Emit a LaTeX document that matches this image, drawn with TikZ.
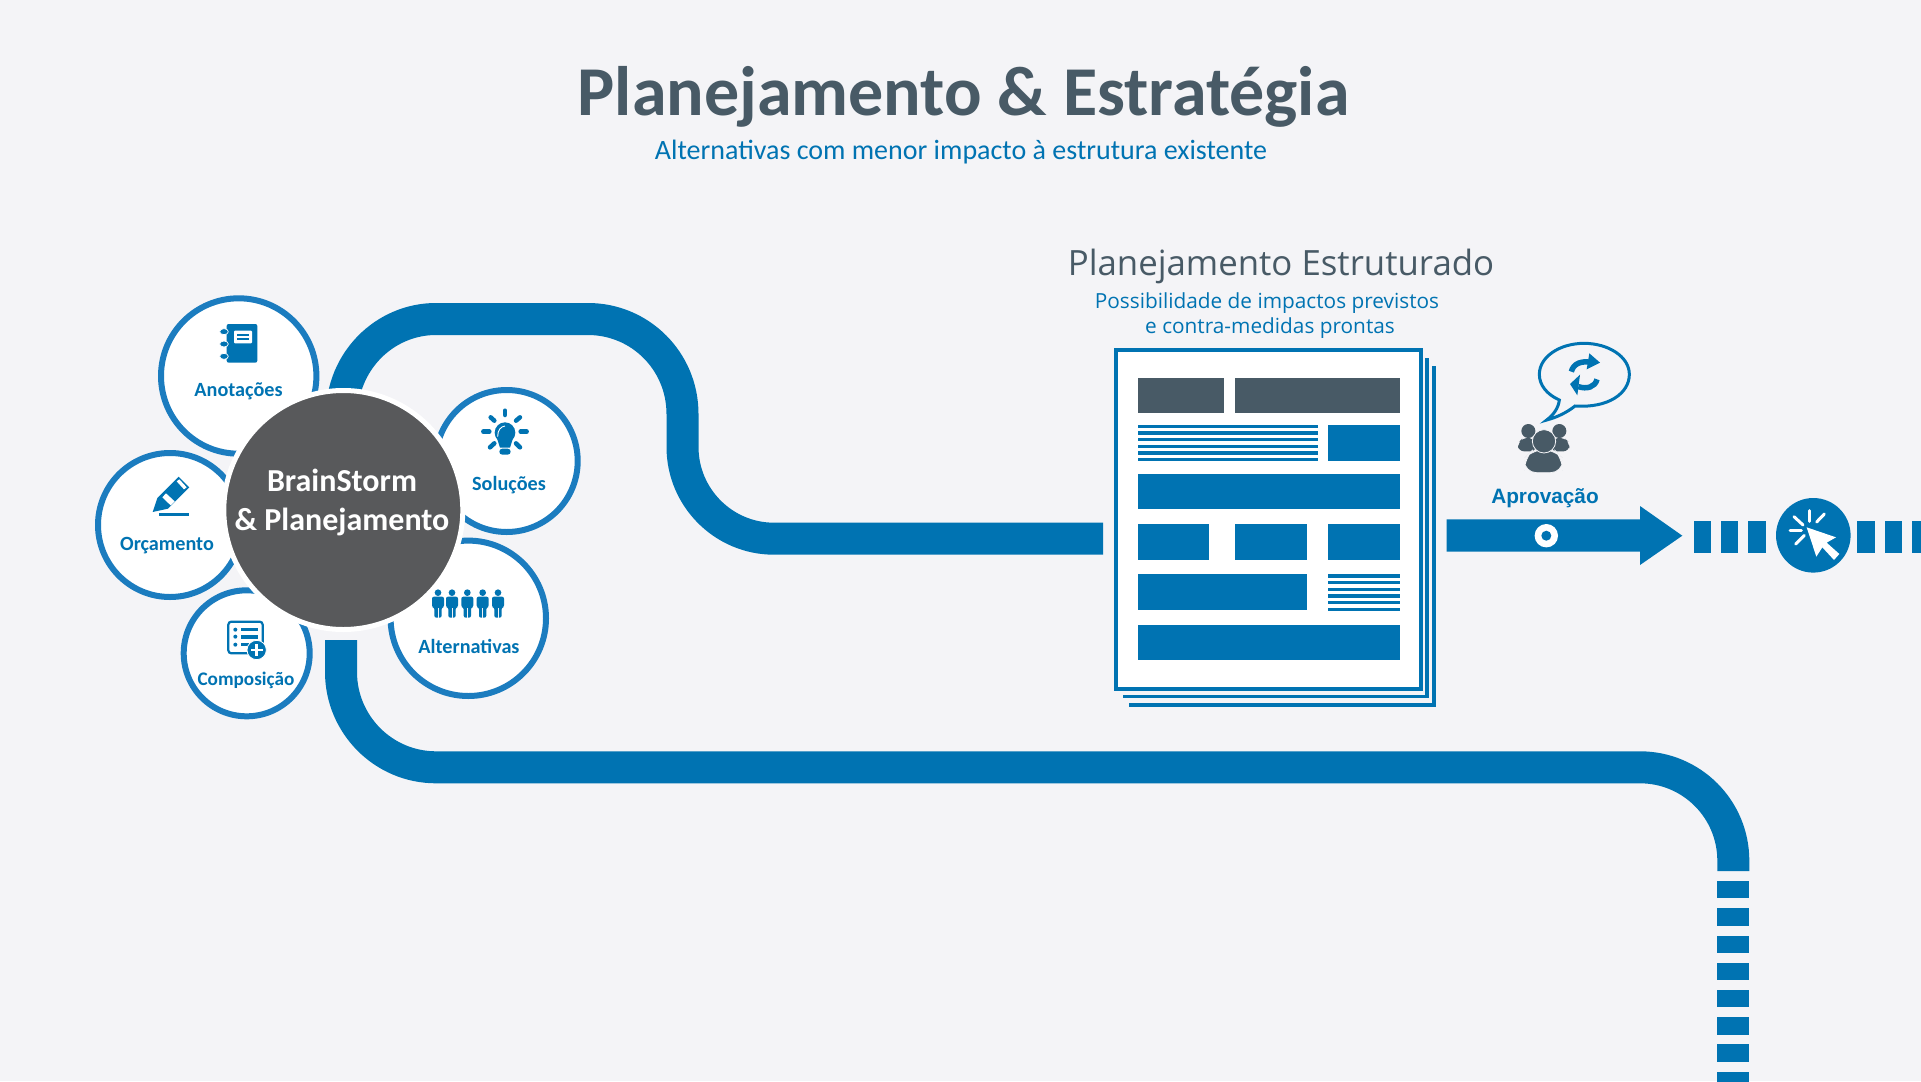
\documentclass[tikz,border=0pt]{standalone}
\usepackage{fontspec}
\setmainfont{Carlito}
\newfontfamily\opens{Open Sans}
\newfontfamily\libs{Liberation Sans}
\definecolor{bgc}{HTML}{F4F4F7}
\definecolor{blu}{HTML}{0073B2}
\definecolor{ringb}{HTML}{1B7CBF}
\definecolor{slate}{HTML}{485A66}
\definecolor{dark}{HTML}{58595B}
\tikzset{
  tube/.style={draw=blu,line width=32pt},
  petal/.style={circle,draw=ringb,fill=white,line width=6pt,inner sep=0pt},
  plabel/.style={text=blu,font=\bfseries\fontsize{20.2}{22}\selectfont,inner sep=0pt,anchor=center},
  zoomone/.style={x=.33333pt,y=-.33333pt,shift={(80pt,-280pt)}},
  zoomthree/.style={x=.33333pt,y=-.33333pt,shift={(1430pt,-330pt)}},
}
\begin{document}
\begin{tikzpicture}[x=1pt,y=-1pt]
\fill[bgc] (0,0) rectangle (1921,1081);
\useasboundingbox (0,0) rectangle (1921,1081);
% titles
\node[text=slate,font=\bfseries\fontsize{70}{76}\selectfont,inner sep=0pt] (title) at (963.5,97) {Planejamento \& Estratégia};
\node[text=blu,font=\fontsize{28}{32}\selectfont,inner sep=0pt] (sub) at (961,152) {Alternativas com menor impacto à estrutura existente};
\node[text=slate,font=\opens\fontsize{34.8}{38}\selectfont,inner sep=0pt] (pe) at (1281,266) {Planejamento Estruturado};
\node[text=blu,font=\opens\fontsize{20.8}{26}\selectfont,inner sep=0pt] (pe1) at (1267,303) {Possibilidade de impactos previstos};
\node[text=blu,font=\opens\fontsize{20.8}{26}\selectfont,inner sep=0pt] (pe2) at (1270,328) {e contra-medidas prontas};
% tubes
\coordinate (hubtop) at (342,420);
\coordinate (hubbot) at (341,640);
\coordinate (docin) at (1103,538.7);
\coordinate (lowend) at (1733.3,871);
\draw[tube] (hubtop) -- (342,414) .. controls (342,362) and (384,319) .. (436,319) -- (588,319)
  .. controls (640,319) and (682.5,361) .. (682.5,414) -- (682.5,447)
  .. controls (682.5,497.5) and (723.5,538.7) .. (774,538.7) -- (docin);
\draw[tube] (hubbot) -- (341,672) .. controls (341,724.5) and (383.5,767.3) .. (436,767.3) -- (1640,767.3)
  .. controls (1691.5,767.3) and (1733.3,809) .. (1733.3,860.6) -- (lowend);
% low dashes
\foreach \yy in {881,908.2,935.5,962.7,989.9,1017.2,1044.4,1071.6}
  \fill[blu] (1717.3,\yy) rectangle (1749.3,\yy+17.3);
% petals
\node[petal,minimum size=155.4pt] (anot) at (238.7,376) {};
\node[petal,minimum size=144pt] (orc) at (170,525) {};
\node[petal,minimum size=126pt] (comp) at (246.7,653.3) {};
\node[petal,minimum size=142pt] (sol) at (506.7,461) {};
\node[petal,minimum size=155.4pt] (alt) at (468.3,618.3) {};
% hub
\node[circle,fill=dark,draw=white,line width=5pt,minimum size=239pt,inner sep=0pt] (hub) at (343.3,510) {};
\node[text=white,font=\bfseries\fontsize{32}{39}\selectfont,inner sep=0pt] (hub1) at (342,480) {BrainStorm};
\node[text=white,font=\bfseries\fontsize{32}{39}\selectfont,inner sep=0pt] (hub2) at (342,521.5) {\& Planejamento};
% petal labels
\node[plabel] (lanot) at (238.5,391) {Anotações};
\node[plabel] (lorc) at (167,546) {Orçamento};
\node[plabel,font=\bfseries\fontsize{19.2}{22}\selectfont] (lcomp) at (246,680) {Composição};
\node[plabel] (lsol) at (509,485.5) {Soluções};
\node[plabel] (lalt) at (469,646) {Alternativas};
% icons petals
\begin{scope}[zoomone]
  % notebook
  \fill[blu,rounded corners=2pt] (440,132) rectangle (532,248);
  \fill[white,rounded corners=1pt] (462,152) rectangle (516,190);
  \fill[blu] (470,163) rectangle (506,168);
  \fill[blu] (470,175) rectangle (506,180);
  \foreach \yy in {155,192,229}
    \filldraw[fill=blu,draw=white,line width=.7pt] (432,\yy) ellipse [x radius=13,y radius=9];
  % bulb
  \fill[blu] (1275,458) circle [radius=31];
  \fill[blu] (1252,478) -- (1298,478) -- (1290,503) -- (1260,503) -- cycle;
  \fill[blu,rounded corners=3pt] (1258,506) rectangle (1292,524);
  \draw[white,line width=.9pt] (1253,470) .. controls (1253,450) and (1262,440) .. (1275,438);
  \begin{scope}[line width=4.5pt,line cap=round]
    \draw[blu] (1275,392) -- (1275,405);
    \draw[blu] (1210,455) -- (1228,455);
    \draw[blu] (1322,455) -- (1340,455);
    \draw[blu] (1232,412) -- (1243,422);
    \draw[blu] (1320,412) -- (1308,422);
    \draw[blu] (1230,502) -- (1243,490);
    \draw[blu] (1320,502) -- (1308,490);
  \end{scope}
  % marker
  \fill[blu] (218,696) -- (232,654) -- (296,590) -- (328,622) -- (264,686) -- cycle;
  \fill[white] (247,652) -- (258,640) -- (284,664) -- (272,676) -- cycle;
  \fill[white] (290,604) -- (298,598) -- (320,622) -- (312,628) -- cycle;
  \fill[blu] (236,700) rectangle (326,707);
  % people
  \foreach \xx in {1074,1116,1162,1208,1254}{
    \fill[blu] (\xx,938) circle [radius=10];
    \fill[blu,rounded corners=2pt] (\xx-18,950) -- (\xx+18,950) -- (\xx+18,982) -- (\xx+11,982) -- (\xx+11,1013) -- (\xx-11,1013) -- (\xx-11,982) -- (\xx-18,982) -- cycle;
    \draw[bgc,line width=.5pt] (\xx,985) -- (\xx,1013);
  }
  % list icon
  \draw[blu,line width=2.2pt,rounded corners=3pt] (445,1025) rectangle (548,1120);
  \foreach \yy in {1049,1070,1094}{
    \fill[blu] (466,\yy) circle [radius=6];
  }
  \fill[blu] (482,1044) rectangle (534,1054);
  \fill[blu] (482,1066) rectangle (534,1076);
  \fill[blu] (482,1089) rectangle (508,1099);
  \filldraw[fill=blu,draw=white,line width=.8pt] (530,1110) circle [radius=29];
  \fill[white] (512,1106) rectangle (548,1114);
  \fill[white] (526,1092) rectangle (534,1128);
\end{scope}
% document
\fill[blu] (1122.7,694.7) rectangle (1429,698.3);
\fill[blu] (1425.3,358.3) rectangle (1429,698.3);
\fill[blu] (1128.7,703) rectangle (1435.7,707);
\fill[blu] (1431.7,366) rectangle (1435.7,707);
\node[draw=blu,fill=white,line width=4pt,minimum width=304.7pt,minimum height=338.7pt,inner sep=0pt] (doc) at (1268.35,519.35) {};
\fill[slate] (1137.7,378) rectangle (1223.7,413);
\fill[slate] (1234.7,378) rectangle (1400,413);
\foreach \k in {0,...,5}{
  \fill[blu] (1137.7,424.7+6.667*\k) rectangle (1317.7,428+6.667*\k);
  \fill[blu] (1327.7,574.3+6.667*\k) rectangle (1400,577.6+6.667*\k);
}
\fill[blu] (1328.3,424.7) rectangle (1400,461);
\fill[blu] (1137.7,474.3) rectangle (1400,509);
\fill[blu] (1137.7,523.7) rectangle (1209.3,560);
\fill[blu] (1235,523.7) rectangle (1306.7,560);
\fill[blu] (1328.3,523.7) rectangle (1400,560);
\fill[blu] (1137.7,574.3) rectangle (1306.7,610.3);
\fill[blu] (1137.7,625) rectangle (1400,660);
% approval arrow
\fill[blu] (1446.7,519.3) -- (1640,519.3) -- (1640,506) -- (1682.3,535.7) -- (1640,565) -- (1640,551.7) -- (1446.7,551.7) -- cycle;
\node[circle,fill=white,minimum size=23.4pt,inner sep=0pt] (ringo) at (1546.3,535.7) {};
\node[circle,fill=blu,minimum size=10pt,inner sep=0pt] (ringi) at (1546.3,535.7) {};
\node[text=blu,font=\libs\bfseries\fontsize{20.8}{24}\selectfont,inner sep=0pt] (apr) at (1545,498) {Aprovação};
% right dashes
\fill[blu] (1694,521) rectangle (1711.3,552.7);
\fill[blu] (1721,521) rectangle (1738.3,552.7);
\fill[blu] (1748.3,521) rectangle (1765.7,552.7);
\fill[blu] (1857.3,521) rectangle (1874.7,552.7);
\fill[blu] (1884.7,521) rectangle (1902,552.7);
\fill[blu] (1912,521) rectangle (1921,552.7);
\node[circle,fill=blu,minimum size=74.6pt,inner sep=0pt] (click) at (1813.3,535.3) {};
\begin{scope}[zoomthree]
  % cursor
  \fill[white] (1130,592) -- (1159,680) -- (1177,652) -- (1212,690) -- (1228,672) -- (1190,638) -- (1218,622) -- cycle;
  \begin{scope}[line cap=round,line width=3pt]
    \draw[white] (1137,542) -- (1137,574);
    \draw[white] (1183,552) -- (1160,576);
    \draw[white] (1080,601) -- (1114,601);
    \draw[white] (1092,560) -- (1119,585);
    \draw[white] (1097,642) -- (1123,616);
  \end{scope}
  % bubble
  \draw[blu,line width=3pt,line join=miter] (435,228) .. controls (535,235) and (598,190) .. (598,133) .. controls (598,80) and (535,40) .. (462,40) .. controls (390,40) and (328,80) .. (328,133) .. controls (328,165) and (350,193) .. (388,210) .. controls (385,235) and (370,255) .. (350,270) .. controls (380,262) and (410,248) .. (435,228) -- cycle;
  % refresh
  \draw[blu,line width=5.5pt] (424,125) .. controls (430,100) and (455,92) .. (482,97);
  \fill[blu] (478,70) -- (510,98) -- (470,118) -- cycle;
  \draw[blu,line width=5.5pt] (501,148) .. controls (495,172) and (470,178) .. (445,170);
  \fill[blu] (450,134) -- (420,162) -- (442,196) -- cycle;
  % group
  \fill[slate] (295,303) circle [radius=21];
  \fill[slate] (388,303) circle [radius=21];
  \fill[slate,rounded corners=6pt] (264,364) -- (264,338) -- (280,323) -- (310,323) -- (320,364) -- cycle;
  \fill[slate,rounded corners=6pt] (418,364) -- (418,338) -- (402,323) -- (372,323) -- (362,364) -- cycle;
  \filldraw[fill=slate,draw=bgc,line width=.8pt,rounded corners=12pt] (283,428) -- (283,385) -- (310,358) -- (372,358) -- (398,385) -- (398,428) -- cycle;
  \filldraw[fill=slate,draw=bgc,line width=.8pt] (342,334) circle [radius=35];
\end{scope}
\end{tikzpicture}
\end{document}
